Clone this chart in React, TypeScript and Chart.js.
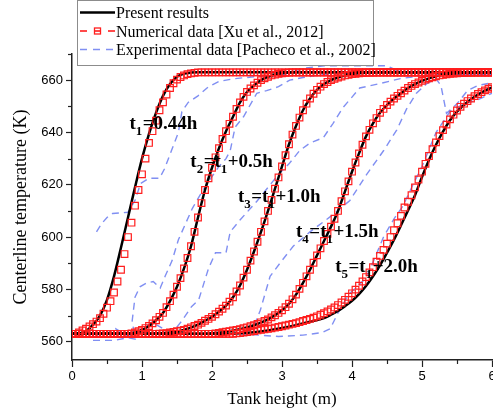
import React, { useEffect, useRef } from "react";
import { Chart, registerables } from "chart.js";

Chart.register(...registerables);

// ---------------- data ----------------
// Present results (black solid curves): tank height (m) / centerline temperature (K)
const BLACK1_X = [0, 0.1, 0.2, 0.3, 0.4, 0.5, 0.6, 0.7, 0.8, 0.9, 1.0, 1.1, 1.2, 1.3, 1.4, 1.5, 1.6, 1.7, 1.8, 2.0, 3.0, 4.0, 5.0, 6.0];
const BLACK1_T = [563, 563.2, 564, 566.5, 570, 576, 585, 596, 607.5, 619, 630, 639.5, 647.5, 654, 658.5, 661.3, 662.5, 662.9, 663, 663, 663, 663, 663, 663];

const BLACK2_X = [0, 0.6, 0.8, 0.9, 1.0, 1.1, 1.2, 1.3, 1.4, 1.5, 1.6, 1.7, 1.8, 1.9, 2.0, 2.1, 2.2, 2.3, 2.4, 2.5, 2.6, 2.7, 2.8, 2.9, 3.0, 3.1, 3.2, 3.4, 4.0, 5.0, 6.0];
const BLACK2_T = [563, 563, 563.2, 563.5, 564.5, 566, 568.2, 571, 575.5, 581, 588, 596.5, 607.5, 618, 626.5, 634, 640.5, 646, 651.5, 655.5, 658, 660, 661.3, 662.1, 662.6, 662.9, 663, 663, 663, 663, 663];

const BLACK3_X = [0, 1.0, 1.2, 1.4, 1.6, 1.8, 1.9, 2.0, 2.1, 2.2, 2.3, 2.4, 2.5, 2.6, 2.7, 2.8, 2.9, 3.0, 3.1, 3.2, 3.3, 3.4, 3.5, 3.6, 3.7, 3.8, 3.9, 4.0, 4.2, 4.4, 5.0, 6.0];
const BLACK3_T = [563, 563, 563.1, 563.5, 564.5, 566.5, 568, 569.5, 571.5, 573.8, 577, 581.5, 587.5, 594.5, 602, 610, 618.5, 627, 635.5, 642.5, 648.5, 653, 656.3, 658.5, 660, 661, 661.8, 662.3, 662.8, 663, 663, 663];

const BLACK4_X = [0, 1.8, 2.0, 2.2, 2.4, 2.6, 2.8, 3.0, 3.1, 3.2, 3.3, 3.4, 3.5, 3.6, 3.7, 3.8, 3.9, 4.0, 4.1, 4.2, 4.3, 4.4, 4.5, 4.6, 4.7, 4.8, 4.9, 5.0, 5.2, 5.4, 5.6, 5.8, 6.0];
const BLACK4_T = [563, 563, 563.2, 563.8, 564.8, 566.3, 568.5, 572, 574.5, 578, 582.5, 587.5, 593, 598.5, 604, 610, 617.5, 625, 632, 638.5, 643.5, 647.5, 650.5, 653, 655, 657, 658.5, 659.7, 661.5, 662.4, 662.8, 663, 663];

const BLACK5_X = [0, 2.2, 2.4, 2.6, 2.8, 3.0, 3.2, 3.4, 3.6, 3.7, 3.8, 3.9, 4.0, 4.1, 4.2, 4.3, 4.4, 4.5, 4.6, 4.7, 4.8, 4.9, 5.0, 5.1, 5.2, 5.3, 5.4, 5.5, 5.6, 5.7, 5.8, 5.9, 6.0];
const BLACK5_T = [563, 563, 563.2, 563.6, 564.3, 565.2, 566.3, 567.6, 569, 570.3, 571.8, 573.6, 575.6, 578.2, 581.3, 585, 589.2, 594, 599, 604.5, 610.2, 616, 623, 629.5, 635.3, 640.3, 644.7, 648, 650.5, 652.7, 654.5, 656, 657.2];

// Numerical data [Xu et al., 2012] (red squares), sampled along tank height
const RED_X = [
  0, 0.05, 0.1, 0.15, 0.2, 0.25, 0.3, 0.35, 0.4, 0.45,
  0.5, 0.55, 0.6, 0.65, 0.7, 0.75, 0.8, 0.85, 0.9, 0.95,
  1, 1.05, 1.1, 1.15, 1.2, 1.25, 1.3, 1.35, 1.4, 1.45,
  1.5, 1.55, 1.6, 1.65, 1.7, 1.75, 1.8, 1.85, 1.9, 1.95,
  2, 2.05, 2.1, 2.15, 2.2, 2.25, 2.3, 2.35, 2.4, 2.45,
  2.5, 2.55, 2.6, 2.65, 2.7, 2.75, 2.8, 2.85, 2.9, 2.95,
  3, 3.05, 3.1, 3.15, 3.2, 3.25, 3.3, 3.35, 3.4, 3.45,
  3.5, 3.55, 3.6, 3.65, 3.7, 3.75, 3.8, 3.85, 3.9, 3.95,
  4, 4.05, 4.1, 4.15, 4.2, 4.25, 4.3, 4.35, 4.4, 4.45,
  4.5, 4.55, 4.6, 4.65, 4.7, 4.75, 4.8, 4.85, 4.9, 4.95,
  5, 5.05, 5.1, 5.15, 5.2, 5.25, 5.3, 5.35, 5.4, 5.45,
  5.5, 5.55, 5.6, 5.65, 5.7, 5.75, 5.8, 5.85, 5.9, 5.95,
  6,
];
const RED1 = [
  563, 563, 563.5, 564.3, 565, 565.8, 566.7, 567.7, 569, 570.7,
  573, 575.5, 578.8, 583, 587.5, 593.5, 600, 605.5, 612, 618,
  624, 630, 636, 640.5, 644.5, 648.5, 651.5, 654.5, 657, 658.8,
  660.2, 661.2, 661.8, 662.3, 662.6, 662.8, 663, 663, 663, 663,
  663, 663, 663, 663, 663, 663, 663, 663, 663, 663,
  663, 663, 663, 663, 663, 663, 663, 663, 663, 663,
  663, 663, 663, 663, 663, 663, 663, 663, 663, 663,
  663, 663, 663, 663, 663, 663, 663, 663, 663, 663,
  663, 663, 663, 663, 663, 663, 663, 663, 663, 663,
  663, 663, 663, 663, 663, 663, 663, 663, 663, 663,
  663, 663, 663, 663, 663, 663, 663, 663, 663, 663,
  663, 663, 663, 663, 663, 663, 663, 663, 663, 663,
  663,
];
const RED2 = [
  563, 563, 563, 563, 563, 563, 563, 563, 563, 563,
  563, 563, 563, 563, 563, 563, 563, 563.2, 563.5, 564,
  564.5, 565.2, 566, 567, 568.2, 569.5, 571, 573.2, 575.5, 578,
  581, 584.3, 588, 592, 596.5, 602, 607.5, 613, 618, 622.5,
  626.5, 630.5, 634, 637.5, 640.5, 643.3, 646, 649, 651.5, 653.6,
  655.5, 656.8, 658, 659, 660, 660.7, 661.3, 661.8, 662.1, 662.4,
  662.6, 662.8, 662.9, 663, 663, 663, 663, 663, 663, 663,
  663, 663, 663, 663, 663, 663, 663, 663, 663, 663,
  663, 663, 663, 663, 663, 663, 663, 663, 663, 663,
  663, 663, 663, 663, 663, 663, 663, 663, 663, 663,
  663, 663, 663, 663, 663, 663, 663, 663, 663, 663,
  663, 663, 663, 663, 663, 663, 663, 663, 663, 663,
  663,
];
const RED3 = [
  563, 563, 563, 563, 563, 563, 563, 563, 563, 563,
  563, 563, 563, 563, 563, 563, 563, 563, 563, 563,
  563, 563, 563, 563, 563, 563.1, 563.2, 563.3, 563.5, 563.7,
  564, 564.2, 564.5, 565, 565.5, 566, 566.5, 567.2, 568, 568.7,
  569.5, 570.5, 571.5, 572.6, 573.8, 575.3, 577, 579.2, 581.5, 584.5,
  587.5, 591, 594.5, 598.2, 602, 606, 610, 614.2, 618.5, 622.8,
  627, 631.3, 635.5, 639.2, 642.5, 645.7, 648.5, 651, 653, 654.8,
  656.3, 657.5, 658.5, 659.3, 660, 660.5, 661, 661.4, 661.8, 662,
  662.3, 662.4, 662.6, 662.7, 662.8, 662.9, 662.9, 663, 663, 663,
  663, 663, 663, 663, 663, 663, 663, 663, 663, 663,
  663, 663, 663, 663, 663, 663, 663, 663, 663, 663,
  663, 663, 663, 663, 663, 663, 663, 663, 663, 663,
  663,
];
const RED4 = [
  563, 563, 563, 563, 563, 563, 563, 563, 563, 563,
  563, 563, 563, 563, 563, 563, 563, 563, 563, 563,
  563, 563, 563, 563, 563, 563, 563, 563, 563, 563,
  563, 563, 563, 563, 563, 563, 563, 563, 563, 563,
  563, 563.2, 563.4, 563.6, 563.8, 564, 564.3, 564.5, 564.8, 565.2,
  565.5, 565.9, 566.3, 566.8, 567.4, 567.9, 568.5, 569.3, 570.1, 571,
  572, 573.2, 574.5, 576.2, 578, 580.2, 582.5, 585, 587.5, 590.2,
  593, 595.7, 598.5, 601.2, 604, 607, 610, 613.7, 617.5, 621.3,
  625, 628.5, 632, 635.3, 638.5, 641, 643.5, 645.5, 647.5, 649,
  650.5, 651.8, 653, 654, 655, 656, 657, 657.8, 658.5, 659.1,
  659.7, 660.2, 660.7, 661.1, 661.5, 661.8, 662, 662.2, 662.4, 662.5,
  662.6, 662.7, 662.8, 662.9, 662.9, 663, 663, 663, 663, 663,
  663,
];
const RED5 = [
  563, 563, 563, 563, 563, 563, 563, 563, 563, 563,
  563, 563, 563, 563, 563, 563, 563, 563, 563, 563,
  563, 563, 563, 563, 563, 563, 563, 563, 563, 563,
  563, 563, 563, 563, 563, 563, 563, 563, 563, 563,
  563, 563, 563, 563, 563, 563, 563, 563.2, 563.3, 563.5,
  563.7, 563.9, 564.1, 564.3, 564.5, 564.7, 564.9, 565.1, 565.4, 565.6,
  565.9, 566.2, 566.5, 566.8, 567.1, 567.5, 567.9, 568.3, 568.7, 569.2,
  569.7, 570.3, 570.9, 571.6, 572.3, 573.1, 574, 575, 576, 577.2,
  578.5, 579.9, 581.4, 583, 584.7, 586.5, 588.5, 590.6, 592.8, 595.1,
  597.5, 600, 602.6, 605.3, 608.1, 611.3, 613.5, 616, 619, 622,
  625, 628, 631, 633.6, 636.2, 638.6, 640.9, 643, 645, 646.8,
  648.4, 649.8, 651, 652, 653, 653.9, 654.7, 655.4, 656.1, 656.7,
  657.3,
];

// Experimental data [Pacheco et al., 2002] (blue dashed)
const EXP1_X = [0.35, 0.42, 0.5, 0.58, 0.8, 0.9, 0.98, 1.1, 1.25, 1.32, 1.42, 1.52, 1.57, 1.66, 1.8, 1.95, 2.1, 2.3, 2.6, 3.0, 3.3, 3.6, 4.0, 4.5, 4.7, 5.0, 5.5, 6.0];
const EXP1_T = [602, 605, 607.5, 609, 609.5, 614, 620.5, 622.5, 622.5, 626, 633, 640, 648, 651.5, 654, 657.5, 659.5, 660.5, 661.3, 662, 664.5, 665.5, 665.5, 665.5, 663, 662.5, 662, 662];

const EXP2_X = [0.3, 0.6, 0.8, 0.9, 0.86, 0.9, 0.97, 1.07, 1.16, 1.26, 1.33, 1.43, 1.52, 1.62, 1.72, 1.85, 1.97, 2.1, 2.2, 2.26, 2.33, 2.45, 2.64, 2.78, 2.95, 3.11, 3.3, 3.54, 3.8, 4.2, 4.6, 5.0, 5.5, 6.0];
const EXP2_T = [560.5, 560.5, 561.5, 561, 568, 577, 581, 582.5, 583, 580.5, 585, 591, 599, 605, 611, 617, 622, 627, 630, 633, 642, 646, 655, 656, 657.5, 660, 661, 662, 662.5, 663, 663.5, 663, 662.5, 662];

const EXP3_X = [0.3, 0.45, 0.62, 0.81, 1.0, 1.14, 1.3, 1.45, 1.57, 1.71, 1.81, 1.95, 2.05, 2.2, 2.26, 2.4, 2.5, 2.65, 2.8, 2.95, 3.1, 3.25, 3.4, 3.59, 3.73, 3.87, 4.0, 4.11, 4.4, 4.69, 5.07, 5.5, 6.0];
const EXP3_T = [563, 562.5, 565, 562, 564.5, 567.5, 565, 564, 568, 573.5, 576, 588, 594, 594, 602, 606.5, 609.5, 614, 619, 624, 628, 633, 636, 638, 643.5, 649.5, 653.5, 657, 658.7, 660.6, 661.9, 662, 662];

const EXP4_X = [2.3, 2.5, 2.6, 2.69, 2.83, 2.97, 3.16, 3.4, 3.7, 3.97, 4.21, 4.45, 4.64, 4.78, 4.92, 5.07, 5.2, 5.27, 5.35, 5.5, 5.65, 5.8, 6.0];
const EXP4_T = [563, 564, 566, 572, 585, 590, 596.5, 602, 608, 614, 624, 633, 641, 649, 655, 658.7, 660.5, 658, 647.3, 651, 656, 658, 659];

const EXP5_X = [2.4, 2.95, 3.3, 3.57, 3.69, 3.8, 3.95, 4.19, 4.31, 4.45, 4.6, 4.73, 4.87, 5.0, 5.2, 5.4, 5.6, 5.8, 6.0];
const EXP5_T = [563, 562, 562.5, 563.5, 565, 571, 578, 584, 591, 600, 607, 612, 620, 627, 640, 648, 651, 652.5, 655];

// axis ticks
const X_TICKS = [0, 1, 2, 3, 4, 5, 6];
const X_MINOR = [0.5, 1.5, 2.5, 3.5, 4.5, 5.5];
const Y_MINOR = [570, 590, 610, 630, 650, 670];

// curve labels: [text, subscript?] parts, anchored in data coordinates
const CURVE_LABELS = [
  { x: 0.82, y: 641.5, parts: [["t", false], ["1", true], ["=0.44h", false]] },
  { x: 1.69, y: 626.8, parts: [["t", false], ["2", true], ["=t", false], ["1", true], ["+0.5h", false]] },
  { x: 2.37, y: 613.5, parts: [["t", false], ["3", true], ["=t", false], ["1", true], ["+1.0h", false]] },
  { x: 3.2, y: 600, parts: [["t", false], ["4", true], ["=t", false], ["1", true], ["+1.5h", false]] },
  { x: 3.76, y: 586.7, parts: [["t", false], ["5", true], ["=t", false], ["1", true], ["+2.0h", false]] },
];

const LEGEND_LABELS = [
  "Present results",
  "Numerical data [Xu et al., 2012]",
  "Experimental data [Pacheco et al., 2002]",
];

// ---------------- styles ----------------
const AXIS = "#222";
const SERIF = "'Liberation Serif', 'Times New Roman', serif";
const SANS = "'Liberation Sans', Arial, sans-serif";
const RED = "#ff1e1e";
const BLUE = "rgba(92,112,238,0.78)";

function toPts(xs: number[], ys: number[]) {
  return xs.map((x, i) => ({ x, y: ys[i] }));
}

const overlayPlugin = {
  id: "overlay",
  afterDraw(chart: any) {
    const { ctx, chartArea: a, scales } = chart;
    const sx = scales.x;
    const sy = scales.y;
    ctx.save();
    // minor ticks
    ctx.strokeStyle = AXIS;
    ctx.lineWidth = 1.2;
    X_MINOR.forEach((v) => {
      const p = Math.round(sx.getPixelForValue(v)) + 0.5;
      ctx.beginPath();
      ctx.moveTo(p, a.bottom);
      ctx.lineTo(p, a.bottom + 4);
      ctx.stroke();
    });
    Y_MINOR.forEach((v) => {
      const p = Math.round(sy.getPixelForValue(v)) + 0.5;
      ctx.beginPath();
      ctx.moveTo(a.left, p);
      ctx.lineTo(a.left - 4, p);
      ctx.stroke();
    });

    // x tick labels
    ctx.fillStyle = "#000";
    ctx.font = `13px ${SANS}`;
    ctx.textAlign = "center";
    ctx.textBaseline = "top";
    X_TICKS.forEach((v) => {
      ctx.fillText(String(v), sx.getPixelForValue(v), a.bottom + 10);
    });

    // curve labels
    ctx.textAlign = "left";
    ctx.textBaseline = "alphabetic";
    CURVE_LABELS.forEach((l: any) => {
      let px = sx.getPixelForValue(l.x);
      const py = sy.getPixelForValue(l.y);
      l.parts.forEach(([s, sub]: [string, boolean]) => {
        ctx.font = `bold ${sub ? 13 : 19}px ${SERIF}`;
        ctx.fillText(s, px, py + (sub ? 6 : 0));
        px += ctx.measureText(s).width + (sub ? 0.5 : 0);
      });
    });

    // legend box
    const bx = 77.5, by = 0.5, bw = 296, bh = 65;
    ctx.fillStyle = "#fff";
    ctx.fillRect(bx, by, bw, bh);
    ctx.strokeStyle = "#8c8c8c";
    ctx.lineWidth = 1;
    ctx.strokeRect(bx, by, bw, bh);
    const rows = [12.5, 31, 49.5];
    ctx.strokeStyle = "#000";
    ctx.lineWidth = 2.5;
    ctx.beginPath();
    ctx.moveTo(80, rows[0]);
    ctx.lineTo(115, rows[0]);
    ctx.stroke();
    ctx.strokeStyle = RED;
    ctx.lineWidth = 1.6;
    ctx.setLineDash([7, 7]);
    ctx.beginPath();
    ctx.moveTo(80, rows[1]);
    ctx.lineTo(115, rows[1]);
    ctx.stroke();
    ctx.setLineDash([]);
    ctx.lineWidth = 1.3;
    ctx.strokeRect(94.5, rows[1] - 3, 6, 6);
    ctx.strokeStyle = BLUE;
    ctx.lineWidth = 1.5;
    ctx.setLineDash([7, 6]);
    ctx.beginPath();
    ctx.moveTo(80, rows[2]);
    ctx.lineTo(115, rows[2]);
    ctx.stroke();
    ctx.setLineDash([]);
    ctx.fillStyle = "#000";
    ctx.font = `16px ${SERIF}`;
    LEGEND_LABELS.forEach((t, i) => ctx.fillText(t, 116, rows[i] + 5.5));
    ctx.restore();
  },
};

export default function App() {
  const ref = useRef<HTMLCanvasElement | null>(null);

  useEffect(() => {
    if (!ref.current) return;
    const redSets = [RED1, RED2, RED3, RED4, RED5].map((vals) => ({
      data: toPts(RED_X, vals),
      showLine: false,
      pointStyle: "rect",
      pointRadius: 4.7,
      pointBorderColor: RED,
      pointBorderWidth: 1.2,
      pointBackgroundColor: "rgba(0,0,0,0)",
      borderColor: RED,
    }));
    const blackSets = [
      [BLACK1_X, BLACK1_T],
      [BLACK2_X, BLACK2_T],
      [BLACK3_X, BLACK3_T],
      [BLACK4_X, BLACK4_T],
      [BLACK5_X, BLACK5_T],
    ].map(([xs, ys]) => ({
      data: toPts(xs, ys),
      borderColor: "#000",
      borderWidth: 2.5,
      pointRadius: 0,
      cubicInterpolationMode: "monotone",
      fill: false,
    }));
    const blueSets = [
      [EXP1_X, EXP1_T],
      [EXP2_X, EXP2_T],
      [EXP3_X, EXP3_T],
      [EXP4_X, EXP4_T],
      [EXP5_X, EXP5_T],
    ].map(([xs, ys]) => ({
      data: toPts(xs, ys),
      borderColor: BLUE,
      borderWidth: 1.4,
      borderDash: [7, 5],
      pointRadius: 0,
      tension: 0,
      fill: false,
    }));

    const chart = new Chart(ref.current, {
      type: "line",
      data: { datasets: [...redSets, ...blackSets, ...blueSets] as any },
      options: {
        responsive: false,
        animation: false,
        devicePixelRatio: 1,
        layout: { autoPadding: false, padding: { left: 0, right: 1, top: 54, bottom: 0 } },
        plugins: { legend: { display: false }, tooltip: { enabled: false } },
        scales: {
          x: {
            type: "linear",
            min: 0,
            max: 6,
            afterFit: (s: any) => {
              s.height = 56;
              s.paddingLeft = 0;
              s.paddingRight = 0;
            },
            ticks: { display: false, stepSize: 1, autoSkip: false, maxRotation: 0 },
            grid: { drawOnChartArea: false, drawTicks: true, tickLength: 7, tickColor: AXIS, tickWidth: 1.2 },
            border: { display: true, color: AXIS, width: 1.5 },
            title: {
              display: true,
              text: "Tank height (m)",
              color: "#000",
              font: { family: SERIF, size: 17 },
              padding: { top: 0, bottom: 6 },
            },
          },
          y: {
            type: "linear",
            min: 553,
            max: 670,
            afterFit: (s: any) => {
              s.width = 72;
              s.paddingTop = 0;
              s.paddingBottom = 0;
            },
            ticks: { stepSize: 20, includeBounds: false, color: "#000", font: { family: SANS, size: 13 }, padding: 3 },
            grid: { drawOnChartArea: false, drawTicks: true, tickLength: 6, tickColor: AXIS, tickWidth: 1.2 },
            border: { display: true, color: AXIS, width: 1.5 },
            title: {
              display: true,
              text: "Centerline temperature (K)",
              color: "#000",
              font: { family: SERIF, size: 18 },
              padding: { top: 10, bottom: 0 },
            },
          },
        },
      } as any,
      plugins: [overlayPlugin],
    });
    return () => chart.destroy();
  }, []);

  return (
    <div style={{ position: "fixed", left: 0, top: 0, width: 493, height: 416, background: "#fff" }}>
      <canvas ref={ref} width={493} height={416} style={{ display: "block" }} />
    </div>
  );
}
